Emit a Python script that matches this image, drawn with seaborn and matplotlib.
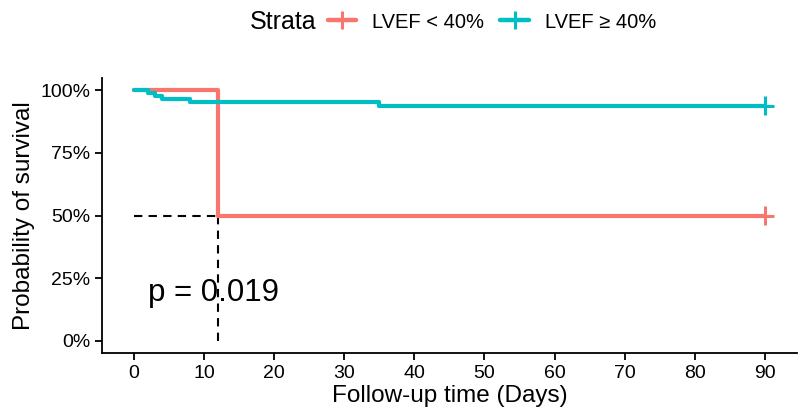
import matplotlib
matplotlib.use("Agg")
import matplotlib.pyplot as plt
from matplotlib.lines import Line2D
from matplotlib.ticker import PercentFormatter
import seaborn as sns
import pandas as pd

# ---- data ----
strata_labels = ["LVEF < 40%", "LVEF \u2265 40%"]
time_lt40 = [0, 12, 90]
surv_lt40 = [1.0, 0.5, 0.5]
time_ge40 = [0, 2, 3, 4, 8, 35, 90]
surv_ge40 = [1.0, 0.9877, 0.9753, 0.9630, 0.9506, 0.9383, 0.9383]
censor_time = [90, 90]
censor_surv = [0.5, 0.9383]
median_time = 12
median_surv = 0.5
p_text = "p = 0.019"
x_ticks = [0, 10, 20, 30, 40, 50, 60, 70, 80, 90]
y_ticks = [0, 0.25, 0.5, 0.75, 1.0]

colors = {"LVEF < 40%": "#F8766D", "LVEF \u2265 40%": "#00BFC4"}

df = pd.concat([
    pd.DataFrame({"time": time_lt40, "surv": surv_lt40, "strata": strata_labels[0]}),
    pd.DataFrame({"time": time_ge40, "surv": surv_ge40, "strata": strata_labels[1]}),
], ignore_index=True)
cens = pd.DataFrame({"time": censor_time, "surv": censor_surv, "strata": strata_labels})

sns.set_theme(style="ticks")
plt.rcParams["font.family"] = ["Liberation Sans", "DejaVu Sans"]
plt.rcParams["text.color"] = "black"
plt.rcParams["axes.labelcolor"] = "black"

fig = plt.figure(figsize=(8.01, 4.13), dpi=100)
ax = fig.add_axes([0.1278, 0.1441, 0.8666, 0.6682])

# median dashed lines
ax.plot([0, median_time], [median_surv, median_surv], color="black", lw=1.5,
        ls=(0, (4, 3)), zorder=1)
ax.plot([median_time, median_time], [0, median_surv], color="black", lw=1.5,
        ls=(0, (4, 3)), zorder=1)

sns.lineplot(data=df, x="time", y="surv", hue="strata", palette=colors,
             drawstyle="steps-post", estimator=None, sort=False, lw=3,
             legend=False, ax=ax, zorder=3)
sns.scatterplot(data=cens, x="time", y="surv", hue="strata", palette=colors,
                marker="+", s=170, linewidth=2.2, legend=False, ax=ax, zorder=4)

ax.text(2, 0.19, p_text, fontsize=22.5, ha="left", va="center", color="black")

ax.set_xlim(-4.5, 94.5)
ax.set_ylim(-0.05, 1.05)
ax.set_xticks(x_ticks)
ax.set_yticks(y_ticks)
ax.yaxis.set_major_formatter(PercentFormatter(1.0, decimals=0))
ax.tick_params(axis="both", labelsize=14, colors="black", length=5, width=1.3)
for s in ["left", "bottom"]:
    ax.spines[s].set_linewidth(1.3)
    ax.spines[s].set_color("black")
sns.despine(ax=ax)
ax.set_xlabel("Follow-up time (Days)", fontsize=17.5, labelpad=2, color="black")
ax.set_ylabel("Probability of survival", fontsize=17.5, labelpad=4, color="black")

# legend
fig.text(250 / 801, 1 - 22 / 413, "Strata", fontsize=18, ha="left", va="center",
         color="black")
handles = [Line2D([0], [0], color=colors[l], lw=3.2, marker="+", markersize=13,
                  markeredgewidth=2.2) for l in strata_labels]
fig.legend(handles, strata_labels, loc="center left",
           bbox_to_anchor=(328 / 801, 1 - 22 / 413), ncol=2, frameon=False,
           fontsize=14.5, handlelength=1.4, handletextpad=0.8, columnspacing=0.8,
           borderaxespad=0, borderpad=0, labelcolor="black")

fig.savefig("out.png", dpi=100)
